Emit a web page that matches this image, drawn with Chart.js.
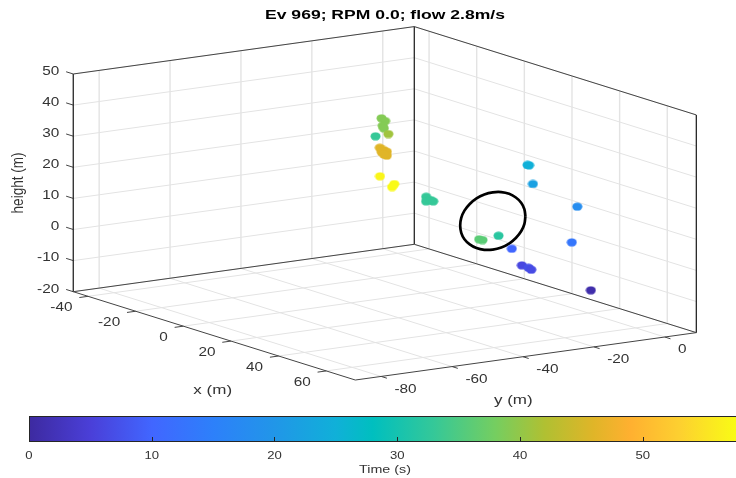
<!DOCTYPE html>
<html lang="en">

<head>
    <meta charset="UTF-8">
    <title>Ev 969</title>
    <script src="https://cdn.jsdelivr.net/npm/chart.js"></script>
    <style>
        body {
            margin: 0;
            padding: 0;
            background: #fff;
        }

        canvas {
            position: absolute;
            left: 0;
        }

        #sceneChart {
            top: 0;
        }

        #barChart {
            top: 410px;
        }
    </style>
</head>

<body>
    <canvas id="sceneChart" width="736" height="410"></canvas>
    <canvas id="barChart" width="736" height="68"></canvas>

    <script>
        // Target positions (m) and time (s)
        const times = [1, 6, 7, 6.5, 10, 13, 18, 22, 25, 25, 32, 36, 36, 33, 33, 33, 33, 33, 39, 39, 39, 39, 41, 46, 46, 46, 46, 46, 46, 57, 57.5, 57.5];
        const xPos = [62.6, 30.5, 33.6, 35.8, 28.2, 58.9, 55.4, 28.6, 24.7, 25.2, 28.9, 29.7, 30.8, 12.2, 16.5, 15.9, 17.4, -7.1, -8.6, -5.6, -1.6, 1.0, 6.9, -10.4, -7.8, -5.8, -2.1, -6.2, -3.6, -12.7, -3.7, -1.2];
        const yPos = [-14.4, -12.3, -12.5, -13.2, -13.6, -17.3, -13.4, -7.9, -6.8, -6.7, -17.8, -23.8, -23.6, -27.0, -29.9, -28.2, -28.5, -28.3, -25.6, -26.6, -30.0, -31.4, -34.1, -24.9, -25.6, -26.0, -28.5, -27.2, -28.3, -23.3, -25.3, -27.6];
        const zPos = [-5, -5, -5, -5, 0, 10, 20, 20, 25, 25, 5, 5, 5, 15, 15, 15, 15, 30, 35, 35, 35, 35, 35, 25, 25, 25, 25, 25, 25, 15, 15, 15];

        // Rotor outline, in the plane x = 0
        const ringY = [9.2, 8.9, 8.0, 6.5, 4.6, 2.4, 0, -2.4, -4.6, -6.5, -8.0, -8.9, -9.2, -8.9, -8.0, -6.5, -4.6, -2.4, 0, 2.4, 4.6, 6.5, 8.0, 8.9, 9.2];
        const ringZ = [0, 2.4, 4.6, 6.5, 8.0, 8.9, 9.2, 8.9, 8.0, 6.5, 4.6, 2.4, 0, -2.4, -4.6, -6.5, -8.0, -8.9, -9.2, -8.9, -8.0, -6.5, -4.6, -2.4, 0];

        // Axes
        const xLimits = [-46.2, 72.2];
        const yLimits = [-87.3, 8.9];
        const zLimits = [-20, 50];
        const xTicks = [-40, -20, 0, 20, 40, 60];
        const yTicks = [-80, -60, -40, -20, 0];
        const zTicks = [-20, -10, 0, 10, 20, 30, 40, 50];
        const barTicks = [0, 10, 20, 30, 40, 50];
        const barMax = 57.6;

        // Colormap
        const mapTimes = [0, 5, 10, 15, 20, 25, 28, 33, 38, 42, 46, 49, 53, 57.6];
        const mapColors = ['#3d2aa0', '#4a3fd8', '#4166ff', '#2d80fa', '#2196e8', '#10b0d8', '#00bfbf', '#35c898', '#75ce60', '#b0c032', '#e0b528', '#ffb030', '#fdd030', '#f9fb15'];

        const INK = '#333333';

        // Fixed view: orthographic projection of the box onto the page
        function project(x, y, z) {
            const u = x - xLimits[0];
            const v = y - yLimits[1];
            return {
                x: 414.3 + u * 2.382 + v * 3.545,
                y: 244.3 + u * 0.746 - v * 0.4927 - (z - zLimits[0]) * 3.11
            };
        }

        function hexToRgb(hex) {
            return [1, 3, 5].map(i => parseInt(hex.slice(i, i + 2), 16));
        }

        function colorForTime(t) {
            let i = 0;
            while (i < mapTimes.length - 2 && t > mapTimes[i + 1]) i++;
            const f = Math.min(1, (t - mapTimes[i]) / (mapTimes[i + 1] - mapTimes[i]));
            const a = hexToRgb(mapColors[i]);
            const b = hexToRgb(mapColors[i + 1]);
            return `rgb(${a.map((c, k) => Math.round(c + (b[k] - c) * f)).join(',')})`;
        }

        // Markers are slightly wider than tall in the original
        function makeDot(color) {
            const c = document.createElement('canvas');
            c.width = 11;
            c.height = 9;
            const g = c.getContext('2d');
            g.fillStyle = color;
            g.beginPath();
            g.ellipse(5.5, 4.5, 5, 4.1, 0, 0, Math.PI * 2);
            g.fill();
            return c;
        }

        function lineSet(points, color, width, order) {
            return {
                type: 'scatter',
                data: points,
                showLine: true,
                borderColor: color,
                borderWidth: width,
                pointRadius: 0,
                order: order
            };
        }

        // The text in the original is stretched sideways, hence the scale
        function drawText(ctx, text, x, y, align, font, widen, color) {
            ctx.save();
            ctx.translate(x, y);
            ctx.scale(widen, 1);
            ctx.font = font;
            ctx.fillStyle = color || INK;
            ctx.textAlign = align;
            ctx.textBaseline = 'middle';
            ctx.fillText(text, 0, 0);
            ctx.restore();
        }

        function drawYLabel(ctx, text, x, y, font) {
            ctx.save();
            ctx.translate(x, y);
            ctx.scale(1.2, 1);
            ctx.rotate(-Math.PI / 2);
            ctx.font = font;
            ctx.fillStyle = INK;
            ctx.textAlign = 'center';
            ctx.textBaseline = 'middle';
            ctx.fillText(text, 0, 0);
            ctx.restore();
        }

        function buildGrid() {
            const sets = [];
            const [x0, x1] = xLimits;
            const [y0, y1] = yLimits;
            const [z0, z1] = zLimits;
            const grid = (a, b, w) => sets.push(lineSet([project(...a), project(...b)], '#e3e3e3', w, 4));

            xTicks.forEach(x => {
                grid([x, y0, z0], [x, y1, z0], 1);
                grid([x, y1, z0], [x, y1, z1], 1.4);
            });
            yTicks.forEach(y => {
                grid([x0, y, z0], [x1, y, z0], 1);
                grid([x0, y, z0], [x0, y, z1], 1.4);
            });
            zTicks.forEach(z => {
                grid([x0, y0, z], [x0, y1, z], 1);
                grid([x0, y1, z], [x1, y1, z], 1);
            });
            return sets;
        }

        function buildBox() {
            const sets = [];
            const [x0, x1] = xLimits;
            const [y0, y1] = yLimits;
            const [z0, z1] = zLimits;
            const edge = (a, b) => sets.push(lineSet([project(...a), project(...b)], '#444444', 1, 3));
            const post = (a, b) => sets.push(lineSet([project(...a), project(...b)], '#262626', 1.3, 3));

            edge([x0, y0, z1], [x0, y1, z1]);
            edge([x0, y1, z1], [x1, y1, z1]);
            edge([x0, y0, z0], [x0, y1, z0]);
            edge([x0, y1, z0], [x1, y1, z0]);
            edge([x0, y0, z0], [x1, y0, z0]);
            edge([x1, y0, z0], [x1, y1, z0]);
            post([x0, y0, z0], [x0, y0, z1]);
            post([x0, y1, z0], [x0, y1, z1]);
            post([x1, y1, z0], [x1, y1, z1]);

            // tick marks point out of the box
            xTicks.forEach(x => edge([x, y0, z0], [x, y0 - 2.45, z0]));
            yTicks.forEach(y => edge([x1, y, z0], [x1 + 2.4, y, z0]));
            zTicks.forEach(z => edge([x0, y0, z], [x0 - 3, y0, z]));
            return sets;
        }

        const sceneLabels = {
            id: 'sceneLabels',
            afterDraw(chart) {
                const ctx = chart.ctx;
                const tickFont = '13px "Liberation Sans"';
                xTicks.forEach(x => {
                    const p = project(x, yLimits[0], zLimits[0]);
                    drawText(ctx, String(x), p.x - 15.5, p.y + 11, 'right', tickFont, 1.18);
                });
                yTicks.forEach(y => {
                    const p = project(xLimits[1], y, zLimits[0]);
                    drawText(ctx, String(y), p.x + 13.3, p.y + 12.6, 'left', tickFont, 1.18);
                });
                zTicks.forEach(z => {
                    const p = project(xLimits[0], yLimits[0], z);
                    drawText(ctx, String(z), p.x - 14, p.y - 2.7, 'right', tickFont, 1.18);
                });
                drawText(ctx, 'Ev 969; RPM 0.0; flow 2.8m/s', 385, 15, 'center', 'bold 13.5px "Liberation Sans"', 1.3, '#000000');
                drawText(ctx, 'x (m)', 212.7, 390, 'center', '13.5px "Liberation Sans"', 1.26);
                drawText(ctx, 'y (m)', 513.3, 400, 'center', '13.5px "Liberation Sans"', 1.26);
                drawYLabel(ctx, 'height (m)', 19, 183, '13.5px "Liberation Sans"');
            }
        };

        function createScene() {
            const targets = times.map((t, i) => project(xPos[i], yPos[i], zPos[i]));
            const ring = ringY.map((y, i) => project(0, y, ringZ[i]));
            const ringLine = lineSet(ring, '#000000', 2.7, 2);
            ringLine.tension = 0.4;

            new Chart(document.getElementById('sceneChart'), {
                type: 'scatter',
                data: {
                    datasets: [
                        {
                            data: targets,
                            pointStyle: times.map(t => makeDot(colorForTime(t))),
                            pointRadius: 5,
                            order: 1
                        },
                        ringLine,
                        ...buildBox(),
                        ...buildGrid()
                    ]
                },
                options: {
                    responsive: false,
                    animation: false,
                    devicePixelRatio: 1,
                    layout: { padding: 0, autoPadding: false },
                    plugins: { legend: { display: false }, tooltip: { enabled: false }, title: { display: false } },
                    scales: {
                        x: { type: 'linear', min: 0, max: 736, display: false },
                        y: { type: 'linear', min: 0, max: 410, reverse: true, display: false }
                    }
                },
                plugins: [sceneLabels]
            });
        }

        const barFrame = {
            id: 'barFrame',
            afterDraw(chart) {
                const ctx = chart.ctx;
                const a = chart.chartArea;
                const scale = chart.scales.x;
                ctx.save();
                ctx.strokeStyle = '#262626';
                ctx.lineWidth = 1;
                ctx.strokeRect(a.left + 0.5, a.top + 0.5, a.right - a.left, a.bottom - a.top - 1);
                ctx.beginPath();
                barTicks.forEach(t => {
                    const px = Math.round(scale.getPixelForValue(t)) + 0.5;
                    ctx.moveTo(px, a.bottom);
                    ctx.lineTo(px, a.bottom - 5);
                });
                ctx.stroke();
                ctx.restore();
                barTicks.forEach(t => {
                    drawText(ctx, String(t), scale.getPixelForValue(t), a.bottom + 14, 'center', '10.5px "Liberation Sans"', 1.25);
                });
                drawText(ctx, 'Time (s)', 385, 60, 'center', '10.5px "Liberation Sans"', 1.36);
            }
        };

        function createColorbar() {
            const canvas = document.getElementById('barChart');

            new Chart(canvas, {
                type: 'bar',
                data: {
                    labels: ['Time'],
                    datasets: [{
                        data: [[0, barMax]],
                        backgroundColor: ctx => {
                            const area = ctx.chart.chartArea;
                            if (!area) return mapColors[0];
                            const scale = ctx.chart.scales.x;
                            const fill = ctx.chart.ctx.createLinearGradient(scale.getPixelForValue(0), 0, scale.getPixelForValue(barMax), 0);
                            mapTimes.forEach((t, i) => fill.addColorStop(t / barMax, mapColors[i]));
                            return fill;
                        },
                        barPercentage: 1,
                        categoryPercentage: 1,
                        borderWidth: 0
                    }]
                },
                options: {
                    indexAxis: 'y',
                    responsive: false,
                    animation: false,
                    devicePixelRatio: 1,
                    layout: { padding: { left: 29, top: 6, bottom: 28, right: 0 }, autoPadding: false },
                    plugins: { legend: { display: false }, tooltip: { enabled: false } },
                    scales: {
                        x: {
                            type: 'linear',
                            min: 0,
                            max: barMax,
                            afterBuildTicks: axis => { axis.ticks = barTicks.map(v => ({ value: v })); },
                            grid: { display: false },
                            border: { display: false },
                            ticks: { display: false }
                        },
                        y: { display: false, grid: { display: false } }
                    }
                },
                plugins: [barFrame]
            });
        }

        createScene();
        createColorbar();
    </script>
</body>

</html>
